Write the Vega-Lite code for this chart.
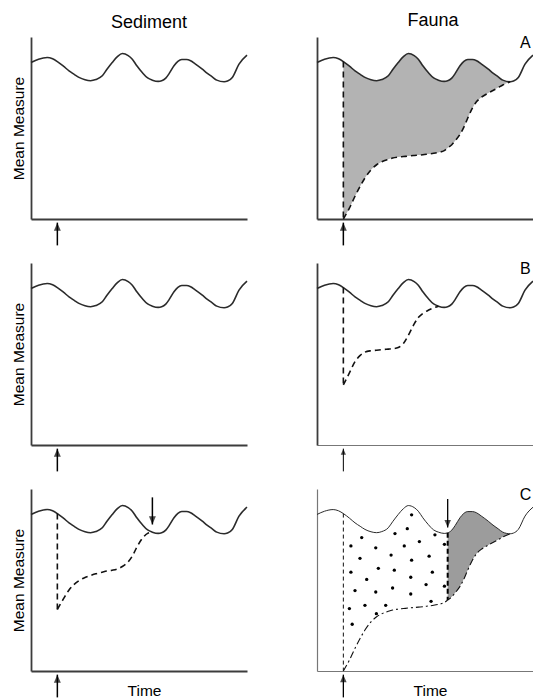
{
  "$schema": "https://vega.github.io/schema/vega-lite/v6.json",
  "padding": {"left": 11, "top": 11, "right": 0, "bottom": 0},
  "datasets": {
    "curves": [
      {"t": 0, "wave": 86.0},
      {"t": 3.5, "wave": 87.8},
      {"t": 7.5, "wave": 88.7},
      {"t": 10, "wave": 88.0},
      {"t": 12.2, "wave": 86.5, "recAC": 0, "recB": 33.0, "recS": 33.8},
      {"t": 15, "wave": 84.0, "recAC": 6, "recB": 39.6, "recS": 39.6},
      {"t": 17.6, "wave": 81.4, "recAC": 12.5, "recB": 45.8, "recS": 44.5},
      {"t": 20, "wave": 79.5, "recAC": 18, "recB": 49.2, "recS": 47.6},
      {"t": 22.2, "wave": 77.8, "recAC": 22.5, "recB": 51.0, "recS": 49.6},
      {"t": 25, "wave": 76.5, "recAC": 27, "recB": 51.8, "recS": 51.4},
      {"t": 27.6, "wave": 76.0, "recAC": 29.8, "recB": 52.1, "recS": 52.5},
      {"t": 30, "wave": 76.6, "recAC": 31.5, "recB": 52.4, "recS": 53.4},
      {"t": 33, "wave": 78.7, "recAC": 32.8, "recB": 52.7, "recS": 54.3},
      {"t": 35, "wave": 82.0, "recAC": 33.5, "recB": 52.9, "recS": 54.9},
      {"t": 37.6, "wave": 86.0, "recAC": 34.0, "recB": 53.6, "recS": 55.4},
      {"t": 40, "wave": 89.2, "recAC": 34.3, "recB": 55.8, "recS": 56.1},
      {"t": 42.3, "wave": 90.9, "recAC": 34.6, "recB": 60.3, "recS": 57.4},
      {"t": 45, "wave": 89.8, "recAC": 34.9, "recB": 66.5, "recS": 60.0},
      {"t": 46.9, "wave": 87.8, "recAC": 35.1, "recB": 70.0, "recS": 63.1},
      {"t": 49, "wave": 84.2, "recAC": 35.3, "recB": 72.3, "recS": 68.0},
      {"t": 51.5, "wave": 80.5, "recAC": 35.7, "recB": 74.0, "recS": 72.8},
      {"t": 54, "wave": 77.5, "recAC": 36.1, "recB": 75.3, "recS": 75.6},
      {"t": 56.2, "wave": 76.3, "recAC": 36.6, "recB": 76.3, "recS": 76.3},
      {"t": 58.9, "wave": 75.6, "recAC": 37.6},
      {"t": 60.5, "wave": 75.9, "recAC": 39.0},
      {"t": 62.4, "wave": 77.4, "recAC": 40.8},
      {"t": 64, "wave": 80.0, "recAC": 43.0},
      {"t": 66.2, "wave": 84.2, "recAC": 46.5},
      {"t": 68, "wave": 86.6, "recAC": 50.5},
      {"t": 69.8, "wave": 87.6, "recAC": 55.5},
      {"t": 72, "wave": 87.6, "recAC": 61.0},
      {"t": 73.9, "wave": 86.9, "recAC": 64.5},
      {"t": 76, "wave": 85.2, "recAC": 66.8},
      {"t": 79.3, "wave": 82.3, "recAC": 69.2},
      {"t": 81, "wave": 80.6, "recAC": 70.3},
      {"t": 83.9, "wave": 78.1, "recAC": 72.2},
      {"t": 86, "wave": 76.3, "recAC": 73.6},
      {"t": 89.4, "wave": 75.4, "recAC": 75.4},
      {"t": 91, "wave": 75.8},
      {"t": 93.2, "wave": 77.8},
      {"t": 96.3, "wave": 85.1},
      {"t": 100, "wave": 90.0}
    ],
    "dots": [
      {"t": 43.8, "y": 85.8}, {"t": 41.8, "y": 78.2}, {"t": 36.1, "y": 75.5}, {"t": 54.6, "y": 74.8},
      {"t": 20.7, "y": 73.3}, {"t": 47.4, "y": 71.1}, {"t": 15.7, "y": 68.7}, {"t": 27.2, "y": 67.7},
      {"t": 40.4, "y": 68.7}, {"t": 59.0, "y": 69.6}, {"t": 34.3, "y": 63.7}, {"t": 51.9, "y": 63.1},
      {"t": 19.9, "y": 61.9}, {"t": 43.8, "y": 60.9}, {"t": 28.4, "y": 56.4}, {"t": 35.8, "y": 55.4},
      {"t": 15.7, "y": 54.3}, {"t": 53.4, "y": 54.3}, {"t": 43.4, "y": 51.5}, {"t": 23.0, "y": 50.3},
      {"t": 59.0, "y": 46.6}, {"t": 50.5, "y": 47.5}, {"t": 35.0, "y": 45.6}, {"t": 17.6, "y": 44.2},
      {"t": 27.2, "y": 43.4}, {"t": 43.4, "y": 42.3}, {"t": 52.8, "y": 38.3}, {"t": 22.2, "y": 36.1},
      {"t": 31.8, "y": 36.1}, {"t": 15.0, "y": 34.3}, {"t": 27.5, "y": 31.5}, {"t": 16.3, "y": 25.7}
    ],
    "arrows": [
      {"panel": "L1", "dir": "up", "t": 12.2, "tip": -2, "tail": -14.5},
      {"panel": "R1", "dir": "up", "t": 12.2, "tip": -2, "tail": -14.5},
      {"panel": "L2", "dir": "up", "t": 12.2, "tip": -2, "tail": -14.5},
      {"panel": "R2", "dir": "up", "t": 12.2, "tip": -2, "tail": -14.5},
      {"panel": "L3", "dir": "up", "t": 12.2, "tip": -2, "tail": -14.5},
      {"panel": "L3", "dir": "down", "t": 56.2, "tip": 80.5, "tail": 95.4},
      {"panel": "R3", "dir": "up", "t": 12.2, "tip": -2, "tail": -14.5},
      {"panel": "R3", "dir": "down", "t": 60.5, "tip": 78.8, "tail": 94.5}
    ],
    "labels": [
      {"panel": "R1", "t": 96.5, "y": 94, "label": "A"},
      {"panel": "R2", "t": 96.5, "y": 94, "label": "B"},
      {"panel": "R3", "t": 96.5, "y": 94, "label": "C"}
    ]
  },
  "columns": 2,
  "bounds": "flush",
  "spacing": {"row": 44, "column": 70},
  "concat": [
    {
      "width": 216, "height": 182,
      "title": {"text": "Sediment", "dx": 10},
      "encoding": {
        "x": {"field": "t", "type": "quantitative", "scale": {"domain": [0, 100]}, "axis": {"title": null}},
        "y": {"type": "quantitative", "scale": {"domain": [0, 100]}, "axis": {"title": "Mean Measure", "titlePadding": 5}}
      },
      "layer": [
        {"data": {"name": "curves"},
         "mark": {"type": "line", "interpolate": "monotone", "color": "#2b2b2b", "strokeWidth": 1.6},
         "encoding": {"y": {"field": "wave"}}},
        {"data": {"name": "arrows"}, "transform": [{"filter": "datum.panel == 'L1'"}],
         "mark": {"type": "rule", "color": "#000", "strokeWidth": 1.5},
         "encoding": {"y": {"field": "tip"}, "y2": {"field": "tail"}}},
        {"data": {"name": "arrows"}, "transform": [{"filter": "datum.panel == 'L1'"}],
         "mark": {"type": "point", "filled": true, "color": "#000", "size": 160, "strokeWidth": 0},
         "encoding": {"y": {"field": "tip"},
           "shape": {"field": "dir", "type": "nominal", "scale": {"domain": ["up", "down"], "range": ["M0,0L-0.55,1.3L0.55,1.3Z", "M0,0L-0.55,-1.3L0.55,-1.3Z"]}, "legend": null}}}
      ]
    },
    {
      "width": 216, "height": 182,
      "title": {"text": "Fauna", "dx": 8},
      "encoding": {
        "x": {"field": "t", "type": "quantitative", "scale": {"domain": [0, 100]}, "axis": {"title": null}},
        "y": {"type": "quantitative", "scale": {"domain": [0, 100]}, "axis": {"title": null}}
      },
      "layer": [
        {"data": {"name": "curves"}, "transform": [{"filter": "isValid(datum.recAC)"}],
         "mark": {"type": "area", "interpolate": "monotone", "color": "#b3b3b3"},
         "encoding": {"y": {"field": "wave"}, "y2": {"field": "recAC"}}},
        {"data": {"name": "curves"},
         "mark": {"type": "line", "interpolate": "monotone", "color": "#2b2b2b", "strokeWidth": 1.6},
         "encoding": {"y": {"field": "wave"}}},
        {"data": {"name": "curves"}, "transform": [{"filter": "datum.t == 12.2"}],
         "mark": {"type": "rule", "color": "#111", "strokeWidth": 1.6, "strokeDash": [6, 4]},
         "encoding": {"y": {"field": "wave"}, "y2": {"field": "recAC"}}},
        {"data": {"name": "curves"}, "transform": [{"filter": "isValid(datum.recAC)"}],
         "mark": {"type": "line", "interpolate": "monotone", "color": "#111", "strokeWidth": 1.6, "strokeDash": [6, 4]},
         "encoding": {"y": {"field": "recAC"}}},
        {"data": {"name": "arrows"}, "transform": [{"filter": "datum.panel == 'R1'"}],
         "mark": {"type": "rule", "color": "#000", "strokeWidth": 1.5},
         "encoding": {"y": {"field": "tip"}, "y2": {"field": "tail"}}},
        {"data": {"name": "arrows"}, "transform": [{"filter": "datum.panel == 'R1'"}],
         "mark": {"type": "point", "filled": true, "color": "#000", "size": 160, "strokeWidth": 0},
         "encoding": {"y": {"field": "tip"},
           "shape": {"field": "dir", "type": "nominal", "scale": {"domain": ["up", "down"], "range": ["M0,0L-0.55,1.3L0.55,1.3Z", "M0,0L-0.55,-1.3L0.55,-1.3Z"]}, "legend": null}}},
        {"data": {"name": "labels"}, "transform": [{"filter": "datum.panel == 'R1'"}],
         "mark": {"type": "text", "fontSize": 16, "align": "center", "baseline": "alphabetic", "color": "#000"},
         "encoding": {"y": {"field": "y"}, "text": {"field": "label"}}}
      ]
    },
    {
      "width": 216, "height": 182,
      "encoding": {
        "x": {"field": "t", "type": "quantitative", "scale": {"domain": [0, 100]}, "axis": {"title": null}},
        "y": {"type": "quantitative", "scale": {"domain": [0, 100]}, "axis": {"title": "Mean Measure", "titlePadding": 5}}
      },
      "layer": [
        {"data": {"name": "curves"},
         "mark": {"type": "line", "interpolate": "monotone", "color": "#2b2b2b", "strokeWidth": 1.6},
         "encoding": {"y": {"field": "wave"}}},
        {"data": {"name": "arrows"}, "transform": [{"filter": "datum.panel == 'L2'"}],
         "mark": {"type": "rule", "color": "#000", "strokeWidth": 1.5},
         "encoding": {"y": {"field": "tip"}, "y2": {"field": "tail"}}},
        {"data": {"name": "arrows"}, "transform": [{"filter": "datum.panel == 'L2'"}],
         "mark": {"type": "point", "filled": true, "color": "#000", "size": 160, "strokeWidth": 0},
         "encoding": {"y": {"field": "tip"},
           "shape": {"field": "dir", "type": "nominal", "scale": {"domain": ["up", "down"], "range": ["M0,0L-0.55,1.3L0.55,1.3Z", "M0,0L-0.55,-1.3L0.55,-1.3Z"]}, "legend": null}}}
      ]
    },
    {
      "width": 216, "height": 182,
      "encoding": {
        "x": {"field": "t", "type": "quantitative", "scale": {"domain": [0, 100]}, "axis": {"title": null, "domainWidth": 1.2, "domainColor": "#777"}},
        "y": {"type": "quantitative", "scale": {"domain": [0, 100]}, "axis": {"title": null}}
      },
      "layer": [
        {"data": {"name": "curves"},
         "mark": {"type": "line", "interpolate": "monotone", "color": "#2b2b2b", "strokeWidth": 1.6},
         "encoding": {"y": {"field": "wave"}}},
        {"data": {"name": "curves"}, "transform": [{"filter": "datum.t == 12.2"}],
         "mark": {"type": "rule", "color": "#111", "strokeWidth": 1.6, "strokeDash": [6, 4]},
         "encoding": {"y": {"field": "wave"}, "y2": {"field": "recB"}}},
        {"data": {"name": "curves"}, "transform": [{"filter": "isValid(datum.recB)"}],
         "mark": {"type": "line", "interpolate": "monotone", "color": "#111", "strokeWidth": 1.6, "strokeDash": [6, 4]},
         "encoding": {"y": {"field": "recB"}}},
        {"data": {"name": "arrows"}, "transform": [{"filter": "datum.panel == 'R2'"}],
         "mark": {"type": "rule", "color": "#000", "strokeWidth": 1},
         "encoding": {"y": {"field": "tip"}, "y2": {"field": "tail"}}},
        {"data": {"name": "arrows"}, "transform": [{"filter": "datum.panel == 'R2'"}],
         "mark": {"type": "point", "filled": true, "color": "#000", "size": 90, "strokeWidth": 0},
         "encoding": {"y": {"field": "tip"},
           "shape": {"field": "dir", "type": "nominal", "scale": {"domain": ["up", "down"], "range": ["M0,0L-0.55,1.3L0.55,1.3Z", "M0,0L-0.55,-1.3L0.55,-1.3Z"]}, "legend": null}}},
        {"data": {"name": "labels"}, "transform": [{"filter": "datum.panel == 'R2'"}],
         "mark": {"type": "text", "fontSize": 16, "align": "center", "baseline": "alphabetic", "color": "#000"},
         "encoding": {"y": {"field": "y"}, "text": {"field": "label"}}}
      ]
    },
    {
      "width": 216, "height": 182,
      "encoding": {
        "x": {"field": "t", "type": "quantitative", "scale": {"domain": [0, 100]}, "axis": {"title": "Time", "titlePadding": 12, "titleX": 113}},
        "y": {"type": "quantitative", "scale": {"domain": [0, 100]}, "axis": {"title": "Mean Measure", "titlePadding": 5}}
      },
      "layer": [
        {"data": {"name": "curves"},
         "mark": {"type": "line", "interpolate": "monotone", "color": "#2b2b2b", "strokeWidth": 1.6},
         "encoding": {"y": {"field": "wave"}}},
        {"data": {"name": "curves"}, "transform": [{"filter": "datum.t == 12.2"}],
         "mark": {"type": "rule", "color": "#111", "strokeWidth": 1.6, "strokeDash": [6, 4]},
         "encoding": {"y": {"field": "wave"}, "y2": {"field": "recS"}}},
        {"data": {"name": "curves"}, "transform": [{"filter": "isValid(datum.recS)"}],
         "mark": {"type": "line", "interpolate": "monotone", "color": "#111", "strokeWidth": 1.6, "strokeDash": [6, 4]},
         "encoding": {"y": {"field": "recS"}}},
        {"data": {"name": "arrows"}, "transform": [{"filter": "datum.panel == 'L3'"}],
         "mark": {"type": "rule", "color": "#000", "strokeWidth": 1.5},
         "encoding": {"y": {"field": "tip"}, "y2": {"field": "tail"}}},
        {"data": {"name": "arrows"}, "transform": [{"filter": "datum.panel == 'L3'"}],
         "mark": {"type": "point", "filled": true, "color": "#000", "size": 160, "strokeWidth": 0},
         "encoding": {"y": {"field": "tip"},
           "shape": {"field": "dir", "type": "nominal", "scale": {"domain": ["up", "down"], "range": ["M0,0L-0.55,1.3L0.55,1.3Z", "M0,0L-0.55,-1.3L0.55,-1.3Z"]}, "legend": null}}}
      ]
    },
    {
      "width": 216, "height": 182,
      "encoding": {
        "x": {"field": "t", "type": "quantitative", "scale": {"domain": [0, 100]}, "axis": {"title": "Time", "titlePadding": 12, "titleX": 113, "domainWidth": 1.2, "domainColor": "#777"}},
        "y": {"type": "quantitative", "scale": {"domain": [0, 100]}, "axis": {"title": null, "domainWidth": 1.2, "domainColor": "#777"}}
      },
      "layer": [
        {"data": {"name": "curves"}, "transform": [{"filter": "isValid(datum.recAC) && datum.t >= 60.5"}],
         "mark": {"type": "area", "interpolate": "monotone", "color": "#9c9c9c"},
         "encoding": {"y": {"field": "wave"}, "y2": {"field": "recAC"}}},
        {"data": {"name": "dots"},
         "mark": {"type": "point", "filled": true, "color": "#000", "size": 11, "strokeWidth": 0, "opacity": 1},
         "encoding": {"y": {"field": "y"}}},
        {"data": {"name": "curves"},
         "mark": {"type": "line", "interpolate": "monotone", "color": "#2b2b2b", "strokeWidth": 1},
         "encoding": {"y": {"field": "wave"}}},
        {"data": {"name": "curves"}, "transform": [{"filter": "datum.t == 12.2"}],
         "mark": {"type": "rule", "color": "#111", "strokeWidth": 1, "strokeDash": [4, 3]},
         "encoding": {"y": {"field": "wave"}, "y2": {"field": "recAC"}}},
        {"data": {"name": "curves"}, "transform": [{"filter": "datum.t == 60.5"}],
         "mark": {"type": "rule", "color": "#000", "strokeWidth": 2, "strokeDash": [5, 3]},
         "encoding": {"y": {"field": "wave"}, "y2": {"field": "recAC"}}},
        {"data": {"name": "curves"}, "transform": [{"filter": "isValid(datum.recAC)"}],
         "mark": {"type": "line", "interpolate": "monotone", "color": "#111", "strokeWidth": 1.1, "strokeDash": [7, 3, 2, 3]},
         "encoding": {"y": {"field": "recAC"}}},
        {"data": {"name": "arrows"}, "transform": [{"filter": "datum.panel == 'R3'"}],
         "mark": {"type": "rule", "color": "#000", "strokeWidth": 1.3},
         "encoding": {"y": {"field": "tip"}, "y2": {"field": "tail"}}},
        {"data": {"name": "arrows"}, "transform": [{"filter": "datum.panel == 'R3'"}],
         "mark": {"type": "point", "filled": true, "color": "#000", "size": 140, "strokeWidth": 0},
         "encoding": {"y": {"field": "tip"},
           "shape": {"field": "dir", "type": "nominal", "scale": {"domain": ["up", "down"], "range": ["M0,0L-0.55,1.3L0.55,1.3Z", "M0,0L-0.55,-1.3L0.55,-1.3Z"]}, "legend": null}}},
        {"data": {"name": "labels"}, "transform": [{"filter": "datum.panel == 'R3'"}],
         "mark": {"type": "text", "fontSize": 16, "align": "center", "baseline": "alphabetic", "color": "#000"},
         "encoding": {"y": {"field": "y"}, "text": {"field": "label"}}}
      ]
    }
  ],
  "config": {
    "view": {"stroke": null},
    "font": "Liberation Sans",
    "axis": {"labels": false, "ticks": false, "grid": false, "domainColor": "#3c3c3c", "domainWidth": 1.8, "titleFontWeight": "normal", "titleColor": "#000", "titleFontSize": 15.5, "titleFont": "Liberation Sans"},
    "title": {"fontSize": 18, "fontWeight": "normal", "font": "Liberation Sans", "color": "#000", "offset": 5, "baseline": "alphabetic"}
  }
}
